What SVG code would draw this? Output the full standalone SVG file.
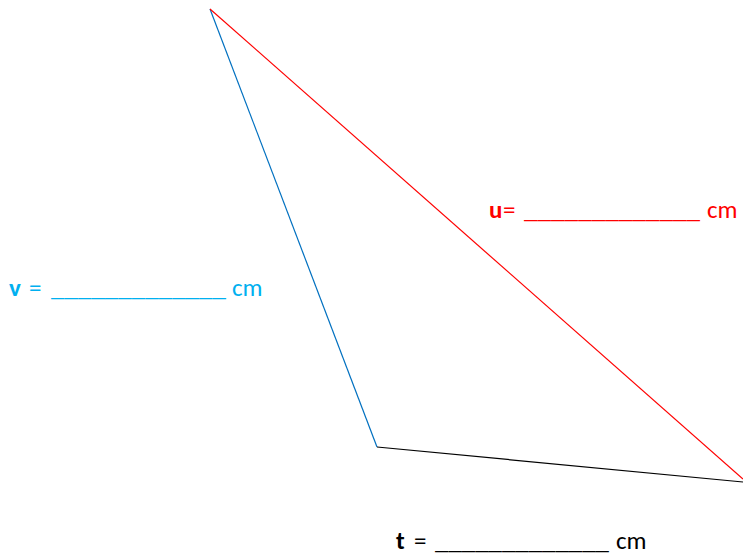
<svg xmlns="http://www.w3.org/2000/svg" width="743" height="559" viewBox="0 0 743 559">
<style>
text{font-family:Carlito,Lato,"Open Sans","Liberation Sans",sans-serif;font-size:25px}
.b{font-weight:bold}
.red{fill:#FF0000}
.blue{fill:#00B0F0}
.blk{fill:#000}
line{stroke-width:1.2;fill:none}
</style>
<rect width="743" height="559" fill="#fff"/>
<g id="connectors">
<line x1="210" y1="9" x2="377" y2="447" stroke="#0070C0"/>
<line x1="210" y1="9" x2="743" y2="479" stroke="#FF0000"/>
<line x1="377" y1="447" x2="743" y2="482" stroke="#000"/>
</g>
<g id="label-u">
<text class="red" y="218"><tspan x="489" class="b">u</tspan><tspan x="503">=</tspan><tspan x="524" textLength="176" lengthAdjust="spacingAndGlyphs">_____________</tspan><tspan x="707">cm</tspan></text>
</g>
<g id="label-v">
<text class="blue" y="296"><tspan x="9" class="b">v</tspan><tspan x="29">=</tspan><tspan x="51" textLength="175" lengthAdjust="spacingAndGlyphs">_____________</tspan><tspan x="232">cm</tspan></text>
</g>
<g id="label-t">
<text class="blk" y="549"><tspan x="396" class="b">t</tspan><tspan x="414">=</tspan><tspan x="435" textLength="174" lengthAdjust="spacingAndGlyphs">_____________</tspan><tspan x="616">cm</tspan></text>
</g>
</svg>
